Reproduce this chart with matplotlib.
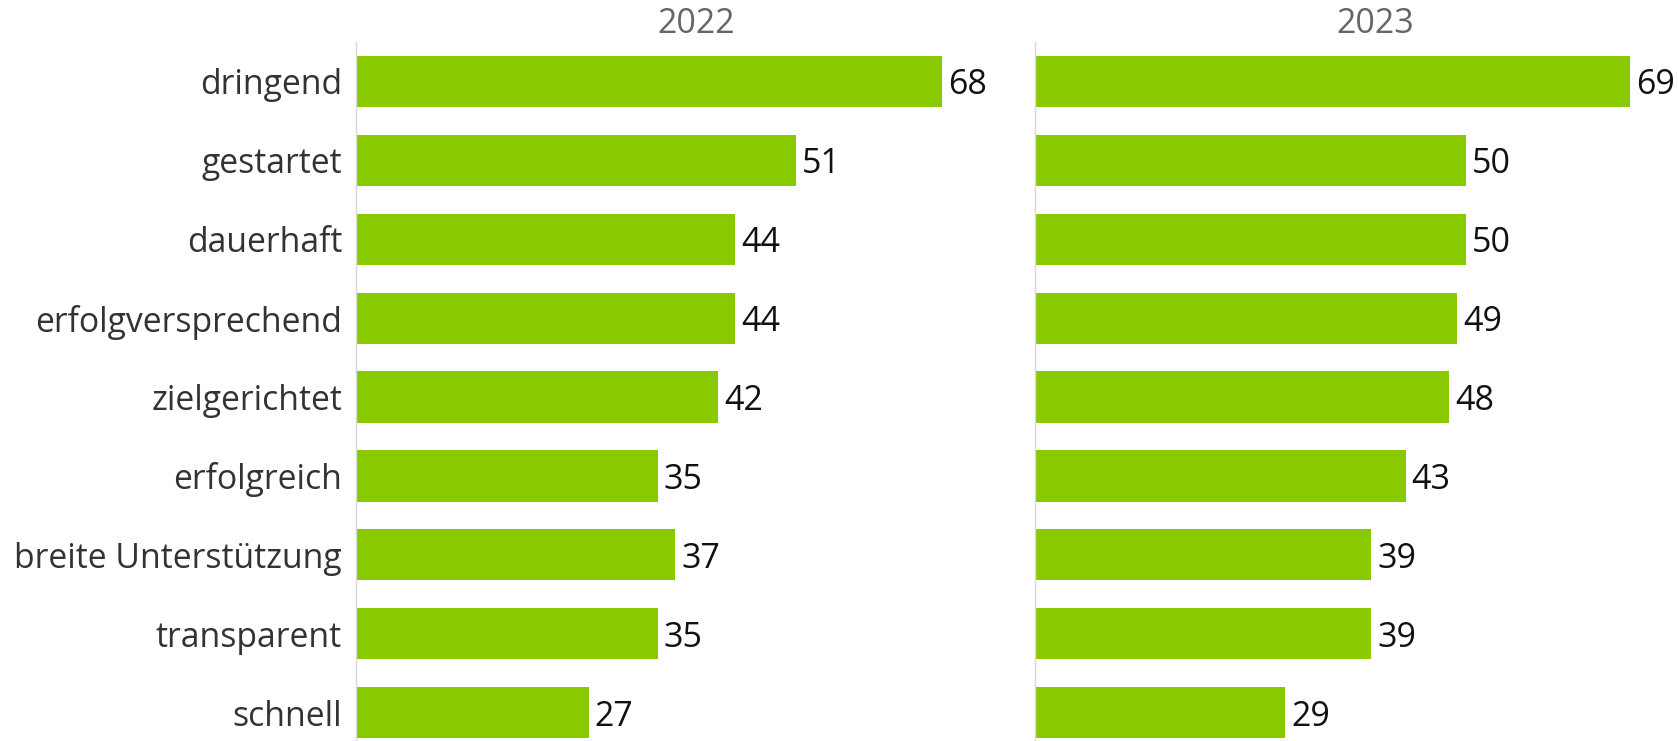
import matplotlib
matplotlib.use('Agg')
import matplotlib.pyplot as plt

plt.rcParams['font.family'] = ['Open Sans', 'DejaVu Sans']

categories = ['dringend', 'gestartet', 'dauerhaft', 'erfolgversprechend', 'zielgerichtet',
              'erfolgreich', 'breite Unterstützung', 'transparent', 'schnell']
years = ['2022', '2023']
values_2022 = [68, 51, 44, 44, 42, 35, 37, 35, 27]
values_2023 = [69, 50, 50, 49, 48, 43, 39, 39, 29]

W, H = 1678, 741
fig = plt.figure(figsize=(W / 100, H / 100), dpi=100)

bar_color = '#88c900'
px_per_unit = 8.62
panel_w = 680
top_px, row_px = 42, 78.9
ax_h = row_px * len(categories)


def panel(x0, vals, title, show_labels):
    ax = fig.add_axes([x0 / W, (H - top_px - ax_h) / H, panel_w / W, ax_h / H])
    ypos = list(range(len(categories)))
    ax.barh(ypos, vals, height=0.65, color=bar_color)
    ax.set_xlim(0, panel_w / px_per_unit)
    ax.set_ylim(len(categories) - 0.5, -0.5)
    for y, v in zip(ypos, vals):
        ax.annotate(str(v), (v, y), xytext=(6, 0), textcoords='offset pixels',
                    va='center_baseline', ha='left', fontsize=24.5, color='#111111',
                    annotation_clip=False)
    for s in ['top', 'right', 'bottom']:
        ax.spines[s].set_visible(False)
    ax.spines['left'].set_color('#d9d9d9')
    ax.spines['left'].set_linewidth(1)
    ax.set_xticks([])
    ax.set_yticks(ypos)
    if show_labels:
        ax.set_yticklabels(categories, fontsize=24.3, color='#333333', va='center_baseline')
    else:
        ax.set_yticklabels([])
    ax.tick_params(axis='y', length=0, pad=10)
    fig.text((x0 + panel_w / 2) / W, 1 - 24 / H, title, ha='center', va='center',
             fontsize=24.5, color='#666666')
    return ax


panel(356, values_2022, years[0], True)
panel(1035, values_2023, years[1], False)

fig.savefig('out.png', dpi=100)
